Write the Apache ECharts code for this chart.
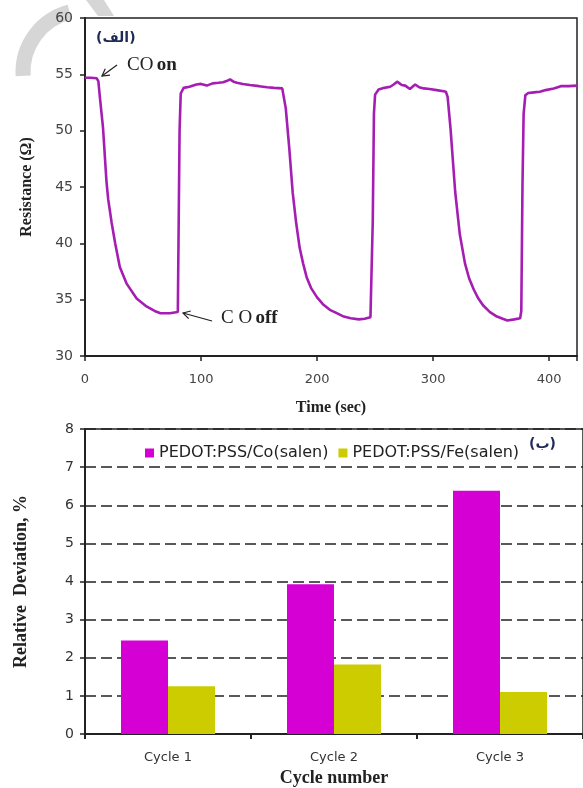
<!DOCTYPE html>
<html><head><meta charset="utf-8">
<script src="https://cdn.jsdelivr.net/npm/echarts@6/dist/echarts.min.js"></script>
<style>html,body{margin:0;padding:0;background:#fff}#c{width:583px;height:788px}</style>
</head><body><div id="c"></div>
<script>
// ---- Panel (الف): resistance vs time ----
const timeSec = [0,5,10,11.5,13,15.5,18.5,20,23,26,30,36,44.5,53,60,65,73,80,80.5,81.5,82.5,85,90,96,100,105,110,115,119,122,125,128,131,136,142,150,157,163,170,171.5,173,176,179,182,185,188,191,195,200,205,211,217,223,229,236,241,246,247,248,249,250,253,258,263,266,269,271,273,276,280,284.5,288,292,297,303,309,311,312.5,315,319,323,327.5,331,335,339,343,349,355,360,364,370,375,376,377,378,379.5,382,387,392,397,404,410,417,424];
const resistance = [54.7,54.7,54.65,54.4,52.8,50.3,45.5,43.9,41.8,40.0,37.9,36.4,35.1,34.4,34.0,33.8,33.8,33.9,34.0,50.0,53.3,53.8,53.9,54.1,54.15,54.0,54.2,54.25,54.3,54.4,54.55,54.35,54.25,54.15,54.05,53.95,53.85,53.8,53.75,53.6,52.0,48.5,44.5,41.8,39.6,38.2,37.0,36.0,35.2,34.6,34.1,33.8,33.5,33.35,33.25,33.3,33.45,33.5,42.0,51.5,53.2,53.65,53.8,53.9,54.1,54.35,54.2,54.05,54.0,53.7,54.1,53.85,53.75,53.7,53.6,53.5,53.45,53.0,50.2,44.6,40.8,38.2,36.9,35.9,35.1,34.5,33.9,33.5,33.3,33.15,33.25,33.35,34.0,45.0,51.5,53.15,53.35,53.4,53.45,53.6,53.75,53.95,53.95,54.0];
const timeTicks = [0,100,200,300,400];
const resTicks = [30,35,40,45,50,55,60];

// ---- Panel (ب): relative deviation ----
const cycles = ['Cycle 1','Cycle 2','Cycle 3'];
const coSalen = [2.45,3.93,6.38];
const feSalen = [1.25,1.82,1.1];
const seriesNames = ['PEDOT:PSS/Co(salen)','PEDOT:PSS/Fe(salen)'];

const serif = '"Liberation Serif","DejaVu Serif",serif';
const sans = '"DejaVu Sans",sans-serif';

function arrow(hx, hy, tx, ty) {
  const dx = tx - hx, dy = ty - hy, L = Math.hypot(dx, dy);
  const ux = dx / L, uy = dy / L, a = Math.PI / 6, w = 8;
  const r1 = [ux*Math.cos(a) - uy*Math.sin(a), ux*Math.sin(a) + uy*Math.cos(a)];
  const r2 = [ux*Math.cos(-a) - uy*Math.sin(-a), ux*Math.sin(-a) + uy*Math.cos(-a)];
  const st = {stroke:'#222', lineWidth:1.2, fill:null};
  return [
    {type:'line', shape:{x1:hx,y1:hy,x2:tx,y2:ty}, style:st, z:100},
    {type:'polyline', shape:{points:[[hx+r1[0]*w,hy+r1[1]*w],[hx,hy],[hx+r2[0]*w,hy+r2[1]*w]]}, style:st, z:100}
  ];
}

const chart = echarts.init(document.getElementById('c'), null, {renderer:'canvas'});
chart.setOption({
  backgroundColor:'#fff',
  animation:false,
  grid:[
    {left:85, top:18, width:492, height:338, show:true, borderColor:'#222', borderWidth:1.5, backgroundColor:'transparent'},
    {left:85, top:429, width:504, height:308, show:true, borderColor:'#222', borderWidth:1.5, backgroundColor:'transparent'}
  ],
  legend:{
    data:seriesNames, left:140, top:440, itemWidth:9, itemHeight:9, itemGap:10, icon:'rect',
    textStyle:{fontFamily:sans, fontSize:16, color:'#222'}
  },
  xAxis:[
    {type:'value', gridIndex:0, min:0, max:424, interval:100,
     axisLine:{show:true, lineStyle:{color:'#222', width:2}},
     axisTick:{show:true, length:5, lineStyle:{color:'#222', width:1.5}},
     axisLabel:{color:'#444', fontSize:13, fontFamily:sans, margin:17,
       formatter:v => timeTicks.includes(v) ? String(v) : ''},
     splitLine:{show:false},
     name:'Time (sec)', nameLocation:'middle', nameGap:44,
     nameTextStyle:{fontFamily:serif, fontWeight:'bold', fontSize:16, color:'#222'}},
    {type:'category', gridIndex:1, data:cycles,
     axisLine:{show:true, lineStyle:{color:'#222', width:2}},
     axisTick:{show:true, length:5, lineStyle:{color:'#222', width:2}},
     axisLabel:{color:'#333', fontSize:13, fontFamily:sans, margin:17},
     name:'Cycle number', nameLocation:'middle', nameGap:35,
     nameTextStyle:{fontFamily:serif, fontWeight:'bold', fontSize:18, color:'#222'}}
  ],
  yAxis:[
    {type:'value', gridIndex:0, min:30, max:60, interval:5,
     axisLine:{show:true, lineStyle:{color:'#222', width:2}},
     axisTick:{show:true, length:5, lineStyle:{color:'#222', width:1.5}},
     axisLabel:{color:'#444', fontSize:14, fontFamily:sans, margin:12,
       formatter:v => resTicks.includes(v) ? String(v) : ''},
     splitLine:{show:false},
     name:'Resistance (Ω)', nameLocation:'middle', nameGap:50, nameRotate:90,
     nameTextStyle:{fontFamily:serif, fontWeight:'bold', fontSize:16, color:'#222'}},
    {type:'value', gridIndex:1, min:0, max:8, interval:1,
     axisLine:{show:true, lineStyle:{color:'#222', width:2}},
     axisTick:{show:true, length:5, lineStyle:{color:'#222', width:1.5}},
     axisLabel:{color:'#333', fontSize:14, fontFamily:sans, margin:11},
     splitLine:{show:true, lineStyle:{color:'#222', width:1.5, type:[11,5]}},
     name:'Relative  Deviation, %', nameLocation:'middle', nameGap:55, nameRotate:90,
     nameTextStyle:{fontFamily:serif, fontWeight:'bold', fontSize:18, color:'#222'}}
  ],
  series:[
    {type:'line', xAxisIndex:0, yAxisIndex:0, showSymbol:false, symbol:'none',
     data:timeSec.map((t,i)=>[t,resistance[i]]),
     lineStyle:{color:'#a51db3', width:2.6}, itemStyle:{color:'#a51db3'}},
    {type:'bar', name:seriesNames[0], xAxisIndex:1, yAxisIndex:1, data:coSalen,
     barWidth:47, barGap:'0%', itemStyle:{color:'#d400d4'}},
    {type:'bar', name:seriesNames[1], xAxisIndex:1, yAxisIndex:1, data:feSalen,
     barWidth:47, barGap:'0%', itemStyle:{color:'#cccc00'}}
  ],
  graphic:[
    {type:'arc', shape:{cx:85, cy:72, r:62, startAngle:Math.PI*0.98, endAngle:Math.PI*1.42}, style:{stroke:'#d6d6d6', lineWidth:15, fill:null}, z:-1},
    {type:'polygon', shape:{points:[[86,0],[104,0],[114,16],[98,16]]}, style:{fill:'#d6d6d6'}, z:-1},
    {type:'text', left:96, top:31, style:{text:'(الف)', font:'bold 14px "DejaVu Sans",sans-serif', fill:'#1f2a55'}, z:100},
    {type:'text', left:127, top:56, style:{text:'{a|CO} {b|on}', rich:{a:{font:'19px '+serif, fill:'#222'}, b:{font:'bold 19px '+serif, fill:'#222'}}}, z:100},
    {type:'text', left:221, top:309, style:{text:'{a|C O} {b|off}', rich:{a:{font:'19px '+serif, fill:'#222'}, b:{font:'bold 19px '+serif, fill:'#222'}}}, z:100},
    {type:'text', left:529, top:437, style:{text:'(ب)', font:'bold 14px "DejaVu Sans",sans-serif', fill:'#1f2a55'}, z:100},
    ...arrow(102, 76, 117, 65),
    ...arrow(183, 313, 212, 321)
  ]
});
</script></body></html>
